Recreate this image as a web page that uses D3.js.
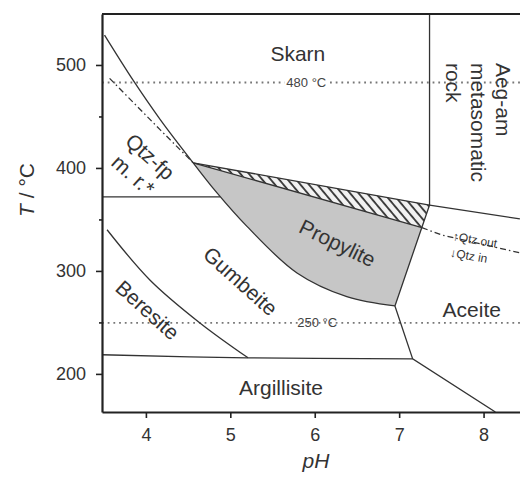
<!DOCTYPE html>
<html>
<head>
<meta charset="utf-8">
<script src="https://cdn.jsdelivr.net/npm/d3@7"></script>
<style>
  body { margin: 0; background: #fff; }
  svg { display: block; font-family: "Liberation Sans", Arial, sans-serif; }
  .bd { fill: none; stroke: #333; stroke-width: 1.3; }
  .lbl { fill: #333; font-size: 21px; }
</style>
</head>
<body>
<div class="chart"></div>
<script>
// axes
var phTicks = [4, 5, 6, 7, 8];
var tTicks = [200, 300, 400, 500];
var tMinor = [250, 350, 450];

// phase boundaries, [pH, T]
var skarnCurve = [[3.51, 529], [3.85, 485], [4.17, 447], [4.56, 405]];
var propyliteBase = [[4.56, 405], [4.84, 376], [5.2, 343], [5.79, 298], [6.38, 275], [6.95, 266]];
var qtzFpLine = [[3.57, 487], [4.17, 437], [4.56, 405]];
var hatchTop = [[4.56, 405], [7.36, 364]];
var hatchBottom = [[4.56, 405], [7.27, 342]];
var qtzOutIn = [[7.27, 342], [7.5, 335], [8.43, 317.5]];
var skarnAeg = [[7.36, 549], [7.36, 364]];
var aceiteTop = [[7.36, 364], [8.43, 350.5]];
var propRight = [[7.36, 364], [6.95, 266], [7.16, 214.6], [8.14, 163]];
var argTop = [[3.48, 218.6], [5.2, 215.6], [7.16, 214.6]];
var beresiteLine = [[3.54, 340], [4.05, 291], [4.64, 249.5], [5.21, 215.6]];
var line372 = [[3.48, 372], [4.88, 372]];

// isotherms
var isotherms = [483, 249.5];
var isoLabels = ["480 °C", "250 °C"];
var isoLabelPh = [5.9, 6.03];

// field names: text, pH, T, angle
var fields = [
    ["Skarn", 5.8, 511, 0],
    ["Argillisite", 5.6, 187, 0],
    ["Aceite", 7.86, 262, 0],
    ["Propylite", 6.27, 327, 26],
    ["Gumbeite", 5.12, 290, 42],
    ["Beresite", 4.02, 262, 42],
    ["Qtz-fp", 4.05, 411, 42],
    ["m. r.*", 3.85, 393, 42]
];
var aegLines = ["Aeg-am", "metasomatic", "rock"];

var width = 520;
var height = 482;

var x = d3.scaleLinear().domain([3.48, 8.55]).range([102, 530]);
var y = d3.scaleLinear().domain([163, 549.5]).range([412, 14]);

var svg = d3.select(".chart")
    .append("svg")
    .attr("width", width)
    .attr("height", height);

var defs = svg.append("defs");
defs.append("clipPath").attr("id", "plot")
    .append("rect").attr("x", 102).attr("y", 14).attr("width", 430).attr("height", 398);

var pat = defs.append("pattern")
    .attr("id", "hatch")
    .attr("patternUnits", "userSpaceOnUse")
    .attr("width", 6.5).attr("height", 6.5)
    .attr("patternTransform", "rotate(-40)");
pat.append("rect").attr("width", 6.5).attr("height", 6.5).attr("fill", "#f2f2f2");
pat.append("line").attr("x1", 1).attr("y1", 0).attr("x2", 1).attr("y2", 6.5)
    .attr("stroke", "#333").attr("stroke-width", 1.8);

var g = svg.append("g").attr("clip-path", "url(#plot)");

var straight = d3.line().x(function (d) { return x(d[0]) }).y(function (d) { return y(d[1]) });
var curved = d3.line().x(function (d) { return x(d[0]) }).y(function (d) { return y(d[1]) })
    .curve(d3.curveCatmullRom);

// grey propylite field
g.append("path")
    .attr("d", curved(propyliteBase) + "L" + x(hatchBottom[1][0]) + "," + y(hatchBottom[1][1]) + "Z")
    .attr("fill", "#c6c6c6");

// hatched band
g.append("path")
    .attr("d", straight([hatchTop[0], hatchTop[1], hatchBottom[1]]) + "Z")
    .attr("fill", "url(#hatch)");

// isotherms
isotherms.forEach(function (t, i) {
    g.append("line")
        .attr("x1", 102).attr("x2", 530)
        .attr("y1", y(t)).attr("y2", y(t))
        .attr("stroke", "#777")
        .attr("stroke-width", 1.8)
        .attr("stroke-dasharray", "1.8,3.9");
    var lt = g.append("text")
        .attr("x", x(isoLabelPh[i]))
        .attr("y", y(t))
        .attr("dy", "0.35em")
        .attr("text-anchor", "middle")
        .attr("font-size", 13)
        .attr("fill", "#444")
        .text(isoLabels[i]);
    var bb = lt.node().getBBox();
    g.insert("rect", "text")
        .attr("x", bb.x - 2).attr("y", bb.y).attr("width", bb.width + 4).attr("height", bb.height)
        .attr("fill", "#fff");
});

// boundaries
[skarnCurve, propyliteBase, beresiteLine, argTop].forEach(function (d) {
    g.append("path").attr("class", "bd").attr("d", curved(d));
});
[hatchTop, hatchBottom, skarnAeg, aceiteTop, propRight, line372].forEach(function (d) {
    g.append("path").attr("class", "bd").attr("d", straight(d));
});
[qtzFpLine, qtzOutIn].forEach(function (d) {
    g.append("path").attr("class", "bd")
        .attr("stroke-dasharray", "6,3,1.5,3")
        .attr("d", straight(d));
});

// field labels
fields.forEach(function (f) {
    var px = x(f[1]), py = y(f[2]);
    svg.append("text")
        .attr("class", "lbl")
        .attr("text-anchor", "middle")
        .attr("dy", "0.35em")
        .attr("transform", "translate(" + px + "," + py + ") rotate(" + f[3] + ")")
        .text(f[0]);
});

aegLines.forEach(function (s, i) {
    svg.append("text")
        .attr("class", "lbl")
        .attr("dy", "0.35em")
        .attr("transform", "translate(" + (503 - i * 25) + "," + y(502) + ") rotate(90)")
        .text(s);
});

// Qtz out / in
svg.append("text")
    .attr("font-size", 12).attr("fill", "#333")
    .attr("transform", "translate(" + x(7.63) + "," + y(330) + ") rotate(10)")
    .text("↑Qtz out");
svg.append("text")
    .attr("font-size", 12).attr("fill", "#333")
    .attr("transform", "translate(" + x(7.6) + "," + y(314) + ") rotate(10)")
    .text("↓Qtz in");

// axes
var xAxis = svg.append("g")
    .attr("transform", "translate(0,412)")
    .call(d3.axisBottom(x).tickValues(phTicks).tickFormat(d3.format("d"))
        .tickSize(6).tickSizeOuter(0).tickPadding(10));
var yAxis = svg.append("g")
    .attr("transform", "translate(102,0)")
    .call(d3.axisLeft(y).tickValues(tTicks).tickSize(6).tickSizeOuter(0).tickPadding(10));
svg.append("g")
    .attr("transform", "translate(102,0)")
    .call(d3.axisLeft(y).tickValues(tMinor).tickSize(3).tickSizeOuter(0).tickFormat(""))
    .select(".domain").remove();

svg.selectAll(".tick line").attr("stroke", "#222").attr("stroke-width", 1.6);
svg.selectAll(".domain").attr("stroke", "#222").attr("stroke-width", 2.2);
svg.selectAll(".tick text")
    .attr("font-family", "Liberation Sans, Arial, sans-serif")
    .attr("font-size", 18)
    .attr("fill", "#333");

// top border
svg.append("line")
    .attr("x1", 102).attr("x2", 520).attr("y1", 14).attr("y2", 14)
    .attr("stroke", "#222").attr("stroke-width", 2.2);

// axis titles
svg.append("text")
    .attr("class", "lbl")
    .attr("text-anchor", "middle")
    .attr("transform", "translate(34,190) rotate(-90)")
    .html("<tspan font-style='italic'>T</tspan> / °C");
svg.append("text")
    .attr("class", "lbl")
    .attr("x", 316).attr("y", 468)
    .attr("text-anchor", "middle")
    .attr("font-style", "italic")
    .text("pH");
</script>
</body>
</html>
